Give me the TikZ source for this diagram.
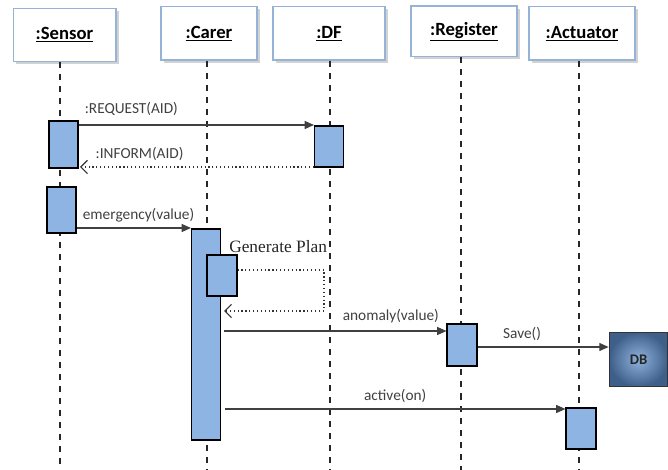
\documentclass[tikz,border=0pt]{standalone}
\usepackage{fontspec}
\setmainfont{Carlito}
\newfontfamily\planfont{Liberation Serif}
\usepackage{xcolor}
\usetikzlibrary{arrows.meta,shadows}
\definecolor{actblue}{HTML}{8EB4E3}
\definecolor{headline}{HTML}{95B3D7}
\definecolor{dbdark}{HTML}{3E5F8A}
\definecolor{dblight}{HTML}{8FB3DE}

\begin{document}
\begin{tikzpicture}[x=0.75pt,y=-0.75pt,
  head/.style={draw=headline, line width=1pt, fill=white, inner sep=0pt,
    font=\fontsize{14}{16}\selectfont\bfseries,
    drop shadow={shadow xshift=2pt, shadow yshift=-2pt, fill=black!35}},
  act/.style={draw=black, line width=0.8pt, fill=actblue, inner sep=0pt, minimum width=21.75pt},
  life/.style={black!85, line width=1.2pt, dash pattern=on 4.5pt off 4.5pt},
  msg/.style={black!75, line width=0.8pt, -{Triangle[length=7pt,width=6pt]}},
  reply/.style={black!80, line width=0.9pt, dotted, -{Straight Barb[length=5pt,width=10pt]}},
  lbl/.style={text=black!75, font=\fontsize{11.5}{13}\selectfont}]
\useasboundingbox (0,0) rectangle (668,470);

% objects %
\node[head, minimum width=77pt, minimum height=40pt] (sensor) at (64.5,35) {\underline{:Sensor}};
\node[head, minimum width=72pt, minimum height=40pt] (carer) at (209,33.5) {\underline{:Carer}};
\node[head, minimum width=84pt, minimum height=40pt] (df) at (329,33.5) {\underline{:DF}};
\node[head, minimum width=79.5pt, minimum height=38pt] (register) at (464,31.5) {\underline{:Register}};
\node[head, minimum width=79.5pt, minimum height=40pt] (actuator) at (582,33.5) {\underline{:Actuator}};

% lifelines %
\foreach \n/\x in {sensor/60, carer/207, df/330, register/461, actuator/579}{
  \coordinate (\n-end) at (\x,470);
  \draw[life] (\n.south -| \n-end) -- (\n-end);
}

% activations %
\node[act, minimum height=35.25pt] (sa1) at (63.5,144.5) {};
\node[act, minimum height=34.5pt] (sa2) at (61.5,210) {};
\node[act, minimum height=30.75pt] (df1) at (329,146.5) {};
\node[act, minimum height=158.25pt] (ca) at (206,334.5) {};
\node[act, minimum height=30.75pt, minimum width=22.5pt] (gp) at (222,275.5) {};
\node[act, minimum height=31.5pt, minimum width=22.5pt] (re) at (462,345) {};
\node[act, minimum height=30.75pt, minimum width=22.5pt] (ac) at (581,428.5) {};
\node[draw=black!80, line width=0.8pt, inner color=dblight, outer color=dbdark,
  minimum width=44pt, minimum height=41pt, font=\fontsize{11}{12}\selectfont\bfseries,
  text=black!85] (db) at (638.5,359.5) {DB};

% message rows %
\coordinate (req) at (0,125);
\coordinate (inf) at (80,167);
\coordinate (emg) at (0,228);
\coordinate (loopA) at (324,270);
\coordinate (loopB) at (324,311);
\coordinate (loopC) at (224,311);
\coordinate (anm) at (224,331);
\coordinate (sav) at (0,347);
\coordinate (act) at (225,409);

\draw[msg] (sa1.east |- req) -- node[lbl, above right, pos=0, xshift=1pt, yshift=3pt] {:REQUEST(AID)} (df1.west |- req);
\draw[reply] (df1.west |- inf) -- node[lbl, above right, pos=1, xshift=8pt, yshift=1pt] {:INFORM(AID)} (inf);
\draw[msg] (sa2.east |- emg) -- node[lbl, above right, pos=0, xshift=1pt, yshift=1pt] {emergency(value)} (ca.west |- emg);

\node[anchor=west, inner sep=0pt, font=\planfont\fontsize{13}{15}\selectfont, text=black!85] (plan) at (229,247) {Generate Plan};
\draw[reply] (gp.east |- loopA) -- (loopA) -- (loopB) -- (loopC);

\draw[msg] (anm) -- node[lbl, above, pos=0.75, yshift=2pt] {anomaly(value)} (re.west |- anm);
\draw[msg] (re.east |- sav) -- node[lbl, above, pos=0.34, yshift=1pt] {Save()} (db.west |- sav);
\draw[msg] (act) -- node[lbl, above, yshift=1pt] {active(on)} (ac.west |- act);
\end{tikzpicture}
\end{document}
